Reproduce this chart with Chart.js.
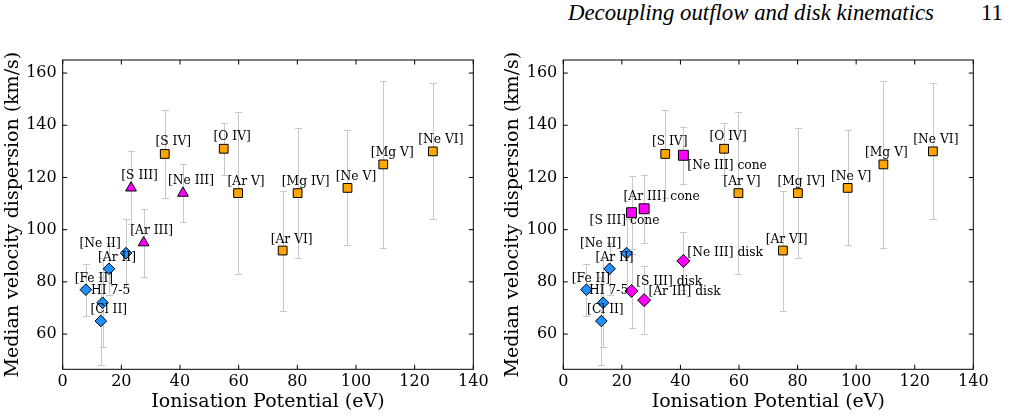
<!DOCTYPE html>
<html><head><meta charset="utf-8">
<script src="https://cdn.jsdelivr.net/npm/chart.js@4.4.1/dist/chart.umd.min.js"></script>
<style>
body{margin:0;width:1010px;height:417px;background:#fff;overflow:hidden;position:relative;}
#hdr{position:absolute;top:0px;left:568px;font:italic 22.8px 'Liberation Serif';color:#000;white-space:nowrap;}
#pg{position:absolute;top:0px;left:981px;font:22.8px 'Liberation Serif';color:#000;}
.box{position:absolute;top:0;width:500px;height:417px;}
</style></head><body>
<div id="hdr">Decoupling outflow and disk kinematics</div><div id="pg">11</div>
<div class="box" style="left:0"><canvas id="c1"></canvas></div>
<div class="box" style="left:500px"><canvas id="c2"></canvas></div>
<script>
// ---- data ----
const xTicks = [0, 20, 40, 60, 80, 100, 120, 140];
const yTicks = [60, 80, 100, 120, 140, 160];

const lowNames = ['[Fe II]', 'HI 7-5', '[Cl II]', '[Ar II]', '[Ne II]'];
const lowIP = [7.9, 13.6, 13.0, 15.8, 21.6];
const lowSigma = [77, 72, 65, 85, 91];
const lowErr = [10, 17, 17, 10, 13];

const midNames = ['[S III]', '[Ar III]', '[Ne III]'];
const midIP = [23.3, 27.6, 41.0];
const midSigma = [116, 95, 114];
const midErr = [14, 13, 11];

const highNames = ['[S IV]', '[O IV]', '[Ar V]', '[Ar VI]', '[Mg IV]', '[Ne V]', '[Mg V]', '[Ne VI]'];
const highIP = [34.8, 54.9, 59.8, 75.0, 80.1, 97.1, 109.3, 126.2];
const highSigma = [129, 131, 114, 92, 114, 116, 125, 130];
const highErr = [17, 10, 31, 23, 25, 22, 32, 26];

const coneNames = ['[S III] cone', '[Ar III] cone', '[Ne III] cone'];
const coneSigma = [106.5, 108, 128.5];
const coneErr = [14, 13, 11];

const diskNames = ['[S III] disk', '[Ar III] disk', '[Ne III] disk'];
const diskSigma = [76.5, 73, 88];
const diskErr = [14, 13, 11];

// ---- label layout (pixel offsets from marker: dx, dy, align) ----
const L_low = [[8,-11,'center'],[8,-12,'center'],[8,-11,'center'],[8,-11,'center'],[-26,-9,'center']];
const L_mid = [[8.5,-12,'center'],[8,-12,'center'],[8,-12,'center']];
const L_high = [[8.5,-12,'center'],[8.5,-12,'center'],[8,-11,'center'],[9,-11,'center'],[8,-11,'center'],[8.5,-11,'center'],[9,-12,'center'],[8,-12,'center']];
const R_low = [[4.5,-11,'center'],[5.5,-12,'center'],[4,-11,'center'],[5,-11.5,'center'],[-26,-9,'center']];
const R_cone = [[-7,8,'center'],[17.5,-12,'center'],[4,11,'left']];
const R_disk = [[4.7,-9.3,'left'],[4.3,-8.6,'left'],[4,-8.6,'left']];
const R_high = [[4.5,-12,'center'],[4,-12,'center'],[3.5,-11,'center'],[3.7,-11,'center'],[3.4,-11,'center'],[3.5,-11,'center'],[3,-12,'center'],[3,-12,'center']];

const pts = (xs, ys) => xs.map((x, i) => ({x: x, y: ys[i]}));
const BLUE = '#1e90ff', ORANGE = '#ffa500', MAG = '#ff00ff';
const FONT = 'DejaVu Serif';

function ds(xs, ys, err, names, lab, color, style, r) {
  return {data: pts(xs, ys), err: err, names: names, lab: lab,
    backgroundColor: color, borderColor: '#000', borderWidth: 1,
    pointStyle: style, pointRadius: r, pointHoverRadius: r, showLine: false};
}

const errPlugin = {
  id: 'errbars',
  beforeDatasetsDraw(chart) {
    const {ctx, scales: {x, y}} = chart;
    ctx.save();
    ctx.strokeStyle = '#c8c8c8';
    ctx.lineWidth = 1;
    chart.data.datasets.forEach(d => {
      d.data.forEach((p, i) => {
        const px = Math.round(x.getPixelForValue(p.x)) + 0.5;
        const y1 = Math.round(y.getPixelForValue(p.y + d.err[i])) + 0.5;
        const y2 = Math.round(y.getPixelForValue(p.y - d.err[i])) + 0.5;
        ctx.beginPath();
        ctx.moveTo(px, y1); ctx.lineTo(px, y2);
        ctx.moveTo(px - 3.5, y1); ctx.lineTo(px + 3.5, y1);
        ctx.moveTo(px - 3.5, y2); ctx.lineTo(px + 3.5, y2);
        ctx.stroke();
      });
    });
    ctx.restore();
  }
};

const labelPlugin = {
  id: 'labels',
  afterDatasetsDraw(chart) {
    const {ctx, scales: {x, y}} = chart;
    ctx.save();
    ctx.font = '12.3px "' + FONT + '"';
    ctx.fillStyle = '#000';
    ctx.textBaseline = 'middle';
    chart.data.datasets.forEach(d => {
      d.data.forEach((p, i) => {
        const o = d.lab[i];
        ctx.textAlign = o[2];
        ctx.fillText(d.names[i], x.getPixelForValue(p.x) + o[0], y.getPixelForValue(p.y) + o[1]);
      });
    });
    ctx.restore();
  }
};

const framePlugin = {
  id: 'frame',
  afterDraw(chart) {
    const {ctx, chartArea: a, scales: {x, y}} = chart;
    ctx.save();
    ctx.strokeStyle = '#000';
    ctx.lineWidth = 1;
    ctx.strokeRect(a.left, a.top, a.right - a.left, a.bottom - a.top);
    const tl = 4.5;
    ctx.beginPath();
    xTicks.forEach(v => {
      const px = x.getPixelForValue(v);
      ctx.moveTo(px, a.bottom); ctx.lineTo(px, a.bottom - tl);
      ctx.moveTo(px, a.top); ctx.lineTo(px, a.top + tl);
    });
    yTicks.forEach(v => {
      const py = y.getPixelForValue(v);
      ctx.moveTo(a.left, py); ctx.lineTo(a.left + tl, py);
      ctx.moveTo(a.right, py); ctx.lineTo(a.right - tl, py);
    });
    ctx.stroke();
    ctx.restore();
  }
};

function makeChart(id, datasets, yw) {
  return new Chart(document.getElementById(id), {
    type: 'scatter',
    data: {datasets: datasets},
    plugins: [errPlugin, labelPlugin, framePlugin],
    options: {
      responsive: true, maintainAspectRatio: false, animation: false,
      devicePixelRatio: 1,
      layout: {padding: {left: 0, right: 26.7, top: 60, bottom: 0}},
      plugins: {legend: {display: false}, tooltip: {enabled: false}},
      events: [],
      scales: {
        x: {
          type: 'linear', min: 0, max: 140,
          afterBuildTicks: s => { s.ticks = xTicks.map(v => ({value: v})); },
          grid: {display: false, drawTicks: false}, border: {display: false},
          ticks: {font: {family: FONT, size: 16}, color: '#000', padding: 3, maxRotation: 0, autoSkip: false},
          title: {display: true, text: 'Ionisation Potential (eV)', color: '#000',
                  font: {family: FONT, size: 19}, padding: {top: 0, bottom: 3.6}},
          afterFit: s => { s.height = 47.7; }
        },
        y: {
          type: 'linear', min: 46.5, max: 165,
          afterBuildTicks: s => { s.ticks = yTicks.map(v => ({value: v})); },
          grid: {display: false, drawTicks: false}, border: {display: false},
          ticks: {font: {family: FONT, size: 16}, color: '#000', padding: 6, autoSkip: false},
          title: {display: true, text: 'Median velocity dispersion (km/s)', color: '#000',
                  font: {family: FONT, size: 19}, padding: {top: 1.6, bottom: 0}},
          afterFit: s => { s.width = yw; }
        }
      }
    }
  });
}

makeChart('c1', [
  ds(lowIP, lowSigma, lowErr, lowNames, L_low, BLUE, 'rectRot', 5.8),
  ds(midIP, midSigma, midErr, midNames, L_mid, MAG, 'triangle', 6.2),
  ds(highIP, highSigma, highErr, highNames, L_high, ORANGE, 'rect', 6.2)
], 62.7);

makeChart('c2', [
  ds(lowIP, lowSigma, lowErr, lowNames, R_low, BLUE, 'rectRot', 5.8),
  ds(midIP, coneSigma, coneErr, coneNames, R_cone, MAG, 'rect', 7),
  ds(midIP, diskSigma, diskErr, diskNames, R_disk, MAG, 'rectRot', 6.5),
  ds(highIP, highSigma, highErr, highNames, R_high, ORANGE, 'rect', 6.2)
], 63.3);
</script>
</body></html>
